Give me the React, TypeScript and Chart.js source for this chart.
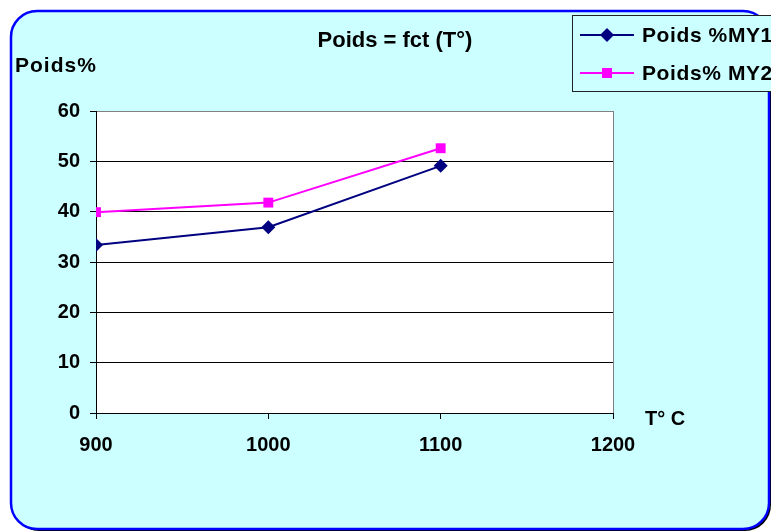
import { useEffect, useRef } from "react";
import { Chart, registerables } from "chart.js";

Chart.register(...registerables);

// Temperature (°C) and weight percentages for the two samples
const temperatures = [900, 1000, 1100];
const poidsMY1 = [33.4, 36.9, 49.1];
const poidsMY2 = [39.9, 41.8, 52.6];
const seriesNames = ["Poids %MY1", "Poids% MY2"];
const seriesColors = ["#000080", "#FF00FF"];
const titleText = "Poids = fct (T°)";
const yAxisTitle = "Poids%";
const xAxisTitle = "T° C";
const xRange = [900, 1200];
const yRange = [0, 60];

const FONT = "Arial, 'Liberation Sans', sans-serif";
const PANEL_BG = "#CCFFFF";

function roundRect(ctx: CanvasRenderingContext2D, x: number, y: number, w: number, h: number, r: number) {
  ctx.beginPath();
  ctx.moveTo(x + r, y);
  ctx.arcTo(x + w, y, x + w, y + h, r);
  ctx.arcTo(x + w, y + h, x, y + h, r);
  ctx.arcTo(x, y + h, x, y, r);
  ctx.arcTo(x, y, x + w, y, r);
  ctx.closePath();
}

function drawMarker(ctx: CanvasRenderingContext2D, kind: string, x: number, y: number, color: string) {
  ctx.fillStyle = color;
  ctx.beginPath();
  if (kind === "diamond") {
    const r = 7;
    ctx.moveTo(x, y - r);
    ctx.lineTo(x + r, y);
    ctx.lineTo(x, y + r);
    ctx.lineTo(x - r, y);
    ctx.closePath();
  } else {
    const h = 5;
    ctx.rect(x - h, y - h, 2 * h, 2 * h);
  }
  ctx.fill();
}

const framePlugin = {
  id: "frame",
  beforeDraw(chart: any) {
    const { ctx, chartArea } = chart;
    ctx.save();
    ctx.fillStyle = "#FFFFFF";
    ctx.fillRect(0, 0, chart.width, chart.height);
    // drop shadow
    roundRect(ctx, 13, 13, 758, 518, 26);
    ctx.fillStyle = "#000000";
    ctx.fill();
    // panel
    roundRect(ctx, 11, 11, 758, 518, 26);
    ctx.fillStyle = PANEL_BG;
    ctx.fill();
    ctx.lineWidth = 2.5;
    ctx.strokeStyle = "#0000FF";
    ctx.stroke();
    // plot area
    ctx.fillStyle = "#FFFFFF";
    ctx.fillRect(chartArea.left, chartArea.top, chartArea.right - chartArea.left, chartArea.bottom - chartArea.top);
    ctx.restore();
  },
  afterDraw(chart: any) {
    const { ctx } = chart;
    ctx.save();
    ctx.fillStyle = "#000000";
    ctx.textBaseline = "alphabetic";

    ctx.font = `bold 22px ${FONT}`;
    ctx.textAlign = "center";
    ctx.fillText(titleText, 395, 47);

    ctx.textAlign = "left";
    ctx.font = `bold 21px ${FONT}`;
    (ctx as any).letterSpacing = "1px";
    ctx.fillText(yAxisTitle, 15, 72);
    (ctx as any).letterSpacing = "0px";

    ctx.font = `bold 20px ${FONT}`;
    ctx.fillText(xAxisTitle, 645, 425);

    // legend box
    ctx.fillStyle = PANEL_BG;
    ctx.fillRect(572.5, 15.5, 300, 76);
    ctx.strokeStyle = "#222222";
    ctx.lineWidth = 1;
    ctx.strokeRect(572.5, 15.5, 300, 76);

    const rows = [35, 73];
    const kinds = ["diamond", "square"];
    seriesNames.forEach((name, i) => {
      const y = rows[i];
      ctx.strokeStyle = seriesColors[i];
      ctx.lineWidth = 2;
      ctx.beginPath();
      ctx.moveTo(580, y);
      ctx.lineTo(634, y);
      ctx.stroke();
      drawMarker(ctx, kinds[i], 607, y, seriesColors[i]);
      ctx.fillStyle = "#000000";
      ctx.font = `bold 21px ${FONT}`;
      (ctx as any).letterSpacing = "0.6px";
      ctx.fillText(name, 642, y + 7);
      (ctx as any).letterSpacing = "0px";
    });
    ctx.restore();
  },
};

export default function App() {
  const canvasRef = useRef<HTMLCanvasElement | null>(null);

  useEffect(() => {
    if (!canvasRef.current) return;
    const chart = new Chart(canvasRef.current, {
      type: "line",
      data: {
        datasets: [
          {
            label: seriesNames[0],
            data: temperatures.map((t, i) => ({ x: t, y: poidsMY1[i] })),
            borderColor: seriesColors[0],
            backgroundColor: seriesColors[0],
            borderWidth: 2,
            pointStyle: "rectRot",
            pointRadius: 7,
            pointBorderWidth: 0,
            tension: 0,
          },
          {
            label: seriesNames[1],
            data: temperatures.map((t, i) => ({ x: t, y: poidsMY2[i] })),
            borderColor: seriesColors[1],
            backgroundColor: seriesColors[1],
            borderWidth: 2,
            pointStyle: "rect",
            pointRadius: 7,
            pointBorderWidth: 0,
            tension: 0,
          },
        ],
      },
      options: {
        responsive: false,
        animation: false,
        layout: { padding: { left: 0, top: 111, right: 158, bottom: 69 } },
        plugins: {
          legend: { display: false },
          title: { display: false },
          tooltip: { enabled: false },
        },
        scales: {
          x: {
            type: "linear",
            min: xRange[0],
            max: xRange[1],
            ticks: {
              stepSize: 100,
              color: "#000000",
              padding: 14,
              font: { family: FONT, size: 20, weight: "bold" },
              callback: (v: any) => String(v),
            },
            grid: {
              color: (c: any) => (c.tick && c.tick.value === xRange[1] ? "#808080" : "rgba(0,0,0,0)"),
              tickColor: "#000000",
              tickLength: 6,
              lineWidth: 1,
            },
            border: { display: true, color: "#000000", width: 1 },
            afterFit: (scale: any) => {
              scale.height = 50;
            },
          },
          y: {
            min: yRange[0],
            max: yRange[1],
            ticks: {
              stepSize: 10,
              color: "#000000",
              padding: 10,
              font: { family: FONT, size: 20, weight: "bold" },
              callback: (v: any) => String(v),
            },
            grid: {
              color: (c: any) => (c.tick && c.tick.value === yRange[1] ? "#808080" : "#000000"),
              tickColor: "#000000",
              tickLength: 6,
              lineWidth: 1,
            },
            border: { display: true, color: "#000000", width: 1 },
            afterFit: (scale: any) => {
              scale.width = 96;
            },
          },
        },
      },
      plugins: [framePlugin],
    });
    return () => chart.destroy();
  }, []);

  return (
    <div style={{ position: "absolute", left: 0, top: 0, width: 771, height: 532 }}>
      <canvas ref={canvasRef} width={771} height={532} style={{ display: "block" }} />
    </div>
  );
}
